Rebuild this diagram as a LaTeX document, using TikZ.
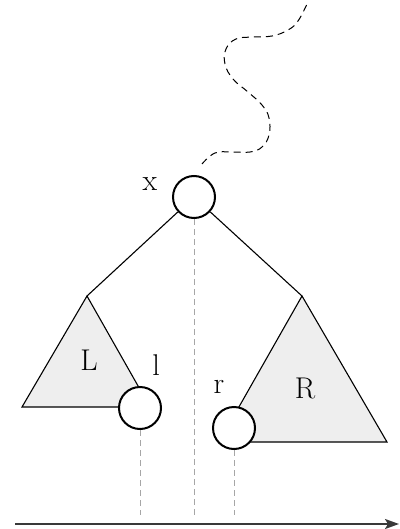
\documentclass[tikz,border=0pt]{standalone}
\usepackage{tikz}
\usetikzlibrary{positioning,calc,arrows.meta}

\begin{document}
\begin{tikzpicture}[x=1pt,y=-1pt,
		every node/.style={font=\fontsize{30}{34}\selectfont},
		vertex/.style={draw,circle,line width=2pt,fill=white,minimum size=42pt,inner sep=0pt},
		subtree/.style={draw,line width=1.1pt,fill=gray!13},
		proj/.style={gray!70,line width=0.9pt,dash pattern=on 6pt off 4pt},
		path to root/.style={line width=1pt,dash pattern=on 7pt off 5pt}]
		\useasboundingbox (0,0) rectangle (399,529);
		\coordinate (Ltop) at (87,296);
		\coordinate (Rtop) at (302,296);
		\coordinate (base) at (0,515);
		\coordinate (axL) at (15,524);
		\coordinate (axR) at (399,524);
		% subtrees
		\draw[subtree] (Ltop) -- (22,407) -- (150,407) -- cycle;
		\draw[subtree] (Rtop) -- (219,442) -- (387,442) -- cycle;
		\node[anchor=base] (Llab) at (89,370) {L};
		\node[anchor=base] (Rlab) at (305,398) {R};
		% nodes
		\node[vertex] (x) at (194,197) {};
		\node[vertex] (l) at (140,408) {};
		\node[vertex] (r) at (234,428) {};
		\node[anchor=base] (xlab) at (150,190) {x};
		\node[anchor=base] (llab) at (156,375) {l};
		\node[anchor=base] (rlab) at (219,393) {r};
		\draw[line width=1.1pt] (x) -- (Ltop);
		\draw[line width=1.1pt] (x) -- (Rtop);
		% projections
		\draw[proj] (x.south) -- (x.south |- base);
		\draw[proj] (l.south) -- (l.south |- base);
		\draw[proj] (r.south) -- (r.south |- base);
		\draw[gray!45!black,line width=2pt,-{Stealth[length=14pt,width=10pt,inset=3pt]}] (axL) -- (axR);
		% path up to the root
		\draw[path to root] plot[smooth, tension=.7] coordinates {(202,164) (215,153) (232,152) (250,152) (262,147) (269,135) (269,118) (262,105) (248,92) (233,79) (225,64) (226,49) (236,39) (253,37) (272,36) (288,30) (298,21) (307,4)};
	\end{tikzpicture}
\end{document}
